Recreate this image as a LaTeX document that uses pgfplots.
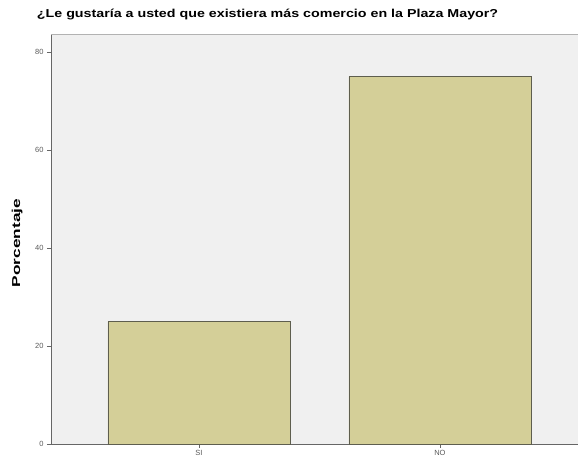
\documentclass[border=0pt]{standalone}
\usepackage{pgfplots}
\pgfplotsset{compat=1.18}
\usepackage{fontspec}
\usepackage{graphicx}
\setmainfont{Liberation Sans}
\definecolor{barfill}{HTML}{D4CF98}
\definecolor{baredge}{HTML}{5E5E4E}
\definecolor{plotbg}{HTML}{F0F0F0}
\begin{document}
\begin{tikzpicture}[x=1pt,y=1pt]
\path[use as bounding box] (-51,-17) rectangle (528,444);
\begin{axis}[
  at={(0,0)}, anchor=south west,
  scale only axis, width=527pt, height=410pt,
  xmin=-0.614, xmax=1.573, ymin=0, ymax=83.7,
  xtick={0,1}, xticklabels={SI,NO},
  ytick={0,20,40,60,80},
  axis background/.style={fill=plotbg},
  axis line style={draw=gray!80!black, line width=0.8pt},
  axis lines*=left,
  tick align=outside, major tick length=4pt,
  tick style={draw=gray!80!black, line width=0.6pt},
  xtick pos=bottom, ytick pos=left,
  ticklabel style={font=\fontsize{7.5}{8}\selectfont, text=gray!70!black},
  xticklabel style={yshift=1pt},
  /pgf/number format/assume math mode=true,
  ylabel={\scalebox{1.5}[1]{\bfseries Porcentaje}}, ylabel style={font=\fontsize{11.5}{12}\selectfont, at={(axis description cs:-0.064,0.49)}, anchor=center},
  ybar, bar width=182pt,
  clip=false,
]
\draw[gray!60, line width=0.8pt] (axis description cs:0,1) -- (axis description cs:1,1);
\addplot[fill=barfill, draw=baredge, line width=0.7pt] coordinates {(0,25) (1,75)};
\node[font=\bfseries\fontsize{11.5}{12}\selectfont, anchor=base] at (axis description cs:0.411,1.04) {\scalebox{1.24}[1]{¿Le gustaría a usted que existiera más comercio en la Plaza Mayor?}};
\end{axis}
\end{tikzpicture}
\end{document}
